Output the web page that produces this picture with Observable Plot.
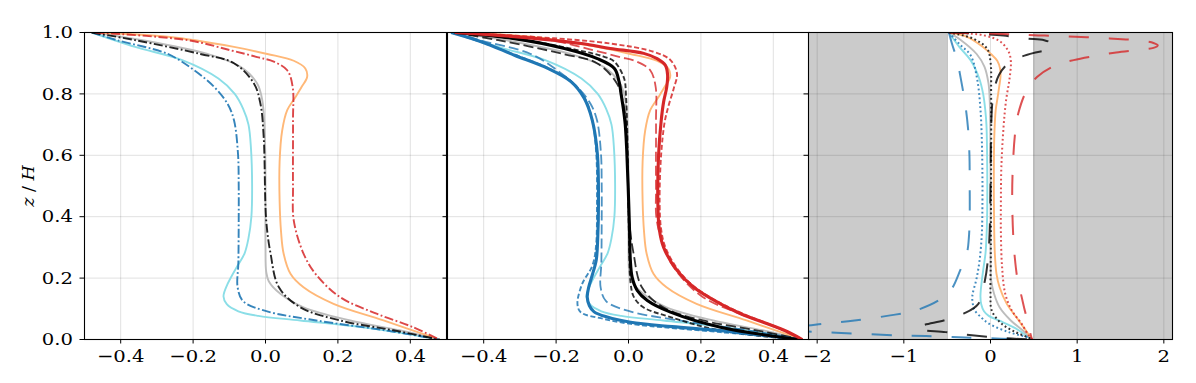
<!DOCTYPE html>
<html>
<head>
<meta charset="utf-8">
<script src="https://cdn.jsdelivr.net/npm/d3@7"></script>
<script src="https://cdn.jsdelivr.net/npm/@observablehq/plot@0.6"></script>
<style>
  html, body { margin: 0; padding: 0; background: white; }
  #wrap { position: relative; width: 1196px; height: 383px; overflow: hidden; font-family: "DejaVu Serif", serif; }
  #wrap svg { position: absolute; left: 0; top: 0; }
  #ylabel { position: absolute; left: -32px; top: 175px; width: 120px; height: 22px; line-height: 22px;
            text-align: center; transform: rotate(-90deg); font-size: 17.5px; font-family: "DejaVu Serif", serif; }
</style>
</head>
<body>
<div id="wrap"><div id="ylabel"><i>z</i> / <i>H</i></div></div>
<script>
// ---------- tick values ----------
const Y_TICKS = [0, 0.2, 0.4, 0.6, 0.8, 1.0];
const X_TICKS_NARROW = [-0.4, -0.2, 0, 0.2, 0.4];
const X_TICKS_WIDE = [-2, -1, 0, 1, 2];
const SHADE_BANDS = [[-2.3, -0.5], [0.5, 2.3]];

// ---------- shared thin solid profiles [x, z/H] ----------
const cyanSolid = [[-0.48,1.0],[-0.36,0.953],[-0.23,0.91],[-0.13,0.85],[-0.085,0.8],[-0.062,0.752],[-0.047,0.7],[-0.04,0.62],[-0.037,0.5],[-0.039,0.4],[-0.047,0.33],[-0.058,0.28],[-0.08,0.235],[-0.105,0.18],[-0.116,0.14],[-0.107,0.115],[-0.075,0.092],[-0.02,0.077],[0.096,0.062],[0.28,0.038],[0.48,0.0]];
const graySolid = [[-0.48,1.0],[-0.34,0.975],[-0.16,0.93],[-0.069,0.888],[-0.023,0.834],[-0.009,0.78],[-0.002,0.67],[0,0.5],[0,0.3],[0.002,0.22],[0.009,0.19],[0.041,0.149],[0.105,0.105],[0.234,0.062],[0.37,0.03],[0.48,0]];
const orangeSolid = [[-0.48,1.0],[-0.27,0.986],[-0.087,0.953],[0.005,0.93],[0.078,0.908],[0.11,0.883],[0.115,0.855],[0.1,0.823],[0.083,0.79],[0.06,0.747],[0.046,0.68],[0.039,0.58],[0.039,0.45],[0.043,0.35],[0.05,0.28],[0.069,0.214],[0.105,0.17],[0.188,0.116],[0.326,0.062],[0.48,0]];

// ---------- panel 1 dash-dot profiles (also long dashes in panel 2) ----------
const blueDashDot = [[-0.48,1.0],[-0.41,0.975],[-0.27,0.93],[-0.197,0.877],[-0.142,0.823],[-0.105,0.768],[-0.087,0.714],[-0.076,0.605],[-0.074,0.5],[-0.074,0.388],[-0.075,0.25],[-0.077,0.17],[-0.062,0.125],[0.0,0.093],[0.14,0.062],[0.33,0.03],[0.48,0]];
const blackDashDot = [[-0.48,1.0],[-0.36,0.975],[-0.18,0.93],[-0.087,0.9],[-0.032,0.834],[-0.014,0.768],[-0.005,0.66],[0.002,0.388],[0.014,0.28],[0.037,0.17],[0.096,0.105],[0.206,0.062],[0.353,0.03],[0.48,0]];
const redDashDot = [[-0.47,1.0],[-0.215,0.975],[-0.096,0.942],[-0.023,0.92],[0.023,0.905],[0.06,0.877],[0.075,0.823],[0.076,0.714],[0.076,0.497],[0.078,0.388],[0.105,0.28],[0.138,0.214],[0.206,0.138],[0.307,0.084],[0.408,0.04],[0.48,0]];

// ---------- panel 2 thick solid and short dashed ----------
const blueThick = [[-0.49,1.0],[-0.407,0.97],[-0.315,0.926],[-0.223,0.883],[-0.159,0.84],[-0.122,0.785],[-0.1,0.714],[-0.086,0.605],[-0.083,0.45],[-0.085,0.33],[-0.089,0.26],[-0.1,0.21],[-0.11,0.17],[-0.114,0.138],[-0.108,0.11],[-0.095,0.09],[-0.059,0.073],[0.006,0.056],[0.12,0.042],[0.254,0.029],[0.475,0]];
const blackThick = [[-0.48,1.0],[-0.315,0.98],[-0.177,0.948],[-0.086,0.915],[-0.039,0.883],[-0.026,0.84],[-0.02,0.796],[-0.014,0.75],[-0.009,0.7],[-0.005,0.62],[-0.001,0.5],[0.003,0.35],[0.005,0.26],[0.01,0.203],[0.024,0.16],[0.052,0.127],[0.116,0.089],[0.254,0.04],[0.47,0]];
const redThick = [[-0.48,1.0],[-0.3,0.985],[-0.13,0.964],[-0.05,0.948],[0.042,0.932],[0.079,0.915],[0.102,0.893],[0.108,0.861],[0.105,0.818],[0.097,0.774],[0.09,0.709],[0.083,0.6],[0.081,0.45],[0.085,0.36],[0.097,0.3],[0.134,0.225],[0.18,0.17],[0.254,0.116],[0.31,0.084],[0.43,0.03],[0.48,0]];
const blueShortDash = [[-0.49,1.0],[-0.41,0.97],[-0.31,0.926],[-0.22,0.883],[-0.157,0.84],[-0.12,0.785],[-0.1,0.714],[-0.089,0.605],[-0.087,0.45],[-0.09,0.3],[-0.1,0.24],[-0.128,0.181],[-0.141,0.116],[-0.132,0.089],[-0.068,0.067],[0.006,0.051],[0.254,0.024],[0.475,0]];
const blackShortDash = [[-0.48,1.0],[-0.3,0.978],[-0.15,0.945],[-0.07,0.922],[-0.039,0.905],[-0.012,0.85],[-0.007,0.796],[-0.004,0.7],[-0.001,0.5],[0.002,0.3],[0.006,0.181],[0.015,0.138],[0.041,0.105],[0.116,0.073],[0.254,0.029],[0.47,0]];
const redShortDash = [[-0.48,1.0],[-0.25,0.985],[-0.05,0.964],[0.07,0.937],[0.116,0.91],[0.134,0.866],[0.125,0.818],[0.111,0.763],[0.1,0.709],[0.09,0.6],[0.086,0.45],[0.09,0.36],[0.102,0.3],[0.138,0.225],[0.184,0.17],[0.258,0.116],[0.316,0.084],[0.43,0.03],[0.48,0]];

// ---------- panel 3 dotted and long dashed ----------
const blueDotted = [[-0.48,1.0],[-0.35,0.96],[-0.23,0.926],[-0.155,0.85],[-0.116,0.75],[-0.1,0.65],[-0.094,0.56],[-0.093,0.45],[-0.1,0.345],[-0.125,0.26],[-0.16,0.2],[-0.21,0.14],[-0.2,0.11],[-0.18,0.094],[-0.1,0.07],[-0.02,0.052],[0.21,0.024],[0.44,0.006],[0.48,0]];
const blackDotted = [[-0.48,1.0],[-0.2,0.98],[-0.04,0.948],[0.0,0.905],[0.007,0.8],[0.006,0.5],[0.003,0.25],[0.0,0.149],[0.015,0.094],[0.13,0.051],[0.29,0.024],[0.44,0.006],[0.48,0]];
const redDotted = [[-0.48,1.0],[-0.08,0.991],[0.116,0.97],[0.21,0.937],[0.235,0.905],[0.22,0.85],[0.18,0.78],[0.15,0.69],[0.125,0.56],[0.12,0.45],[0.12,0.345],[0.134,0.235],[0.17,0.149],[0.247,0.094],[0.36,0.051],[0.44,0.013],[0.48,0]];
const blueLongDash = [[-0.48,1.0],[-0.44,0.959],[-0.39,0.915],[-0.33,0.83],[-0.29,0.763],[-0.26,0.69],[-0.243,0.6],[-0.24,0.5],[-0.24,0.4],[-0.25,0.33],[-0.27,0.284],[-0.35,0.225],[-0.46,0.16],[-0.6,0.127],[-0.87,0.094],[-1.1,0.081],[-1.57,0.062],[-1.94,0.051],[-2.25,0.04],[-2.35,0.032],[-2.1,0.026],[-1.78,0.022],[-1.07,0.0135],[-0.6,0.01],[-0.14,0.005],[0.48,0]];
const blackLongDash = [[-0.48,1.0],[-0.085,0.995],[0.15,0.99],[0.41,0.98],[0.62,0.975],[0.72,0.962],[0.695,0.948],[0.48,0.932],[0.23,0.905],[0.096,0.861],[0.03,0.79],[0.01,0.714],[0.0,0.5],[-0.01,0.35],[-0.03,0.26],[-0.066,0.19],[-0.14,0.116],[-0.31,0.084],[-0.54,0.062],[-0.78,0.046],[-0.85,0.035],[-0.52,0.024],[-0.29,0.016],[0.17,0.004],[0.48,0]];
const redLongDash = [[-0.48,1.0],[0.27,0.994],[0.5,0.991],[0.75,0.989],[0.98,0.986],[1.24,0.983],[1.47,0.979],[1.71,0.974],[1.88,0.966],[1.93,0.958],[1.88,0.95],[1.7,0.943],[1.45,0.935],[1.22,0.924],[0.96,0.91],[0.75,0.893],[0.54,0.856],[0.41,0.807],[0.32,0.736],[0.29,0.687],[0.264,0.6],[0.25,0.469],[0.263,0.333],[0.28,0.268],[0.31,0.199],[0.36,0.138],[0.4,0.09],[0.44,0.052],[0.46,0.02],[0.48,0]];

// ---------- colours ----------
const C = {blue: "#1f77b4", black: "#000000", red: "#d62728", cyan: "#8bdee7", gray: "#bdbdbd", orange: "#ffb878"};

const W = 1196, H = 383, TOP = 32, BOTTOM = 339;
const FONT = 17.5, STRETCH = 1.12;

function ln(data, stroke, width, dash, opacity = 1) {
  return Plot.line(data, {x: d => d[0], y: d => d[1], stroke, strokeWidth: width,
    strokeDasharray: dash, strokeOpacity: opacity, strokeLinecap: "butt",
    curve: "catmull-rom", clip: true});
}

function panel({left, right, domain, ticks, fmt, labels, shade, marks}) {
  const under = [];
  if (shade) {
    under.push(Plot.rect(SHADE_BANDS, {x1: d => d[0], x2: d => d[1], y1: 0, y2: 1, fill: "#cbcbcb", clip: true}));
    under.push(Plot.ruleX(SHADE_BANDS.map(d => Math.abs(d[0]) < Math.abs(d[1]) ? d[0] : d[1]), {stroke: "#a8a8a8", strokeWidth: 1}));
  }
  const svg = Plot.plot({
    width: W, height: H,
    marginLeft: left, marginRight: W - right, marginTop: TOP, marginBottom: H - BOTTOM,
    x: {domain}, y: {domain: [0, 1]},
    style: {fontFamily: "'DejaVu Serif', serif", fontSize: FONT + "px", color: "black", background: "transparent", overflow: "visible"},
    marks: [
      ...under,
      Plot.gridX(ticks, {stroke: "black", strokeOpacity: 0.12, strokeWidth: 1}),
      Plot.gridY(Y_TICKS, {stroke: "black", strokeOpacity: 0.12, strokeWidth: 1}),
      ...marks,
      Plot.frame({stroke: "black", strokeWidth: 1.1}),
      Plot.axisX({ticks, tickFormat: fmt, tickSize: 4.5, tickPadding: 5.5, label: null}),
      Plot.axisY({ticks: Y_TICKS, tickFormat: labels ? d3.format(".1f") : () => "", tickSize: 4.5, tickPadding: 7, label: null})
    ]
  });
  document.getElementById("wrap").appendChild(svg);
  // horizontal stretch of the tick labels to match the reference glyph proportions
  svg.querySelectorAll("text").forEach(t => {
    if (!t.textContent) return;
    const w = t.getComputedTextLength();
    if (w > 0) {
      t.setAttribute("textLength", (w * STRETCH).toFixed(2));
      t.setAttribute("lengthAdjust", "spacingAndGlyphs");
    }
  });
}

// Panel 1
panel({left: 84, right: 446, domain: [-0.5, 0.5], ticks: X_TICKS_NARROW, fmt: d3.format(".1f"), labels: true, marks: [
  ln(cyanSolid, C.cyan, 1.9), ln(graySolid, C.gray, 1.9), ln(orangeSolid, C.orange, 1.9),
  ln(blueDashDot, C.blue, 1.9, "9,2.5,1.8,2.5", 0.9),
  ln(blackDashDot, C.black, 1.9, "9,2.5,1.8,2.5", 0.85),
  ln(redDashDot, C.red, 1.9, "9,2.5,1.8,2.5", 0.85)
]});

// Panel 2
panel({left: 447, right: 809, domain: [-0.5, 0.5], ticks: X_TICKS_NARROW, fmt: d3.format(".1f"), labels: false, marks: [
  ln(cyanSolid, C.cyan, 1.9), ln(graySolid, C.gray, 1.9), ln(orangeSolid, C.orange, 1.9),
  ln(blueDashDot, C.blue, 1.8, "10,4", 0.8),
  ln(blackDashDot, C.black, 1.8, "10,4", 0.8),
  ln(redDashDot, C.red, 1.8, "10,4", 0.8),
  ln(blueShortDash, C.blue, 1.9, "5,2.5", 0.85),
  ln(blackShortDash, C.black, 1.9, "5,2.5", 0.8),
  ln(redShortDash, C.red, 1.9, "5,2.5", 0.85),
  ln(blueThick, C.blue, 3.1), ln(blackThick, C.black, 3.1), ln(redThick, C.red, 3.1)
]});

// Panel 3
panel({left: 808, right: 1172, domain: [-2.1, 2.1], ticks: X_TICKS_WIDE, fmt: d3.format("d"), labels: false, shade: true, marks: [
  ln(cyanSolid, C.cyan, 1.9), ln(graySolid, C.gray, 1.9), ln(orangeSolid, C.orange, 1.9),
  ln(blueDotted, C.blue, 2, "1.8,2.6", 0.85),
  ln(blackDotted, C.black, 2, "1.8,2.6", 0.8),
  ln(redDotted, C.red, 2, "1.8,2.6", 0.8),
  ln(blueLongDash, C.blue, 2, "20,20", 0.8),
  ln(blackLongDash, C.black, 2, "20,20", 0.8),
  ln(redLongDash, C.red, 2, "20,20", 0.8)
]});

// keep the y label on top
document.getElementById("wrap").appendChild(document.getElementById("ylabel"));
</script>
</body>
</html>
